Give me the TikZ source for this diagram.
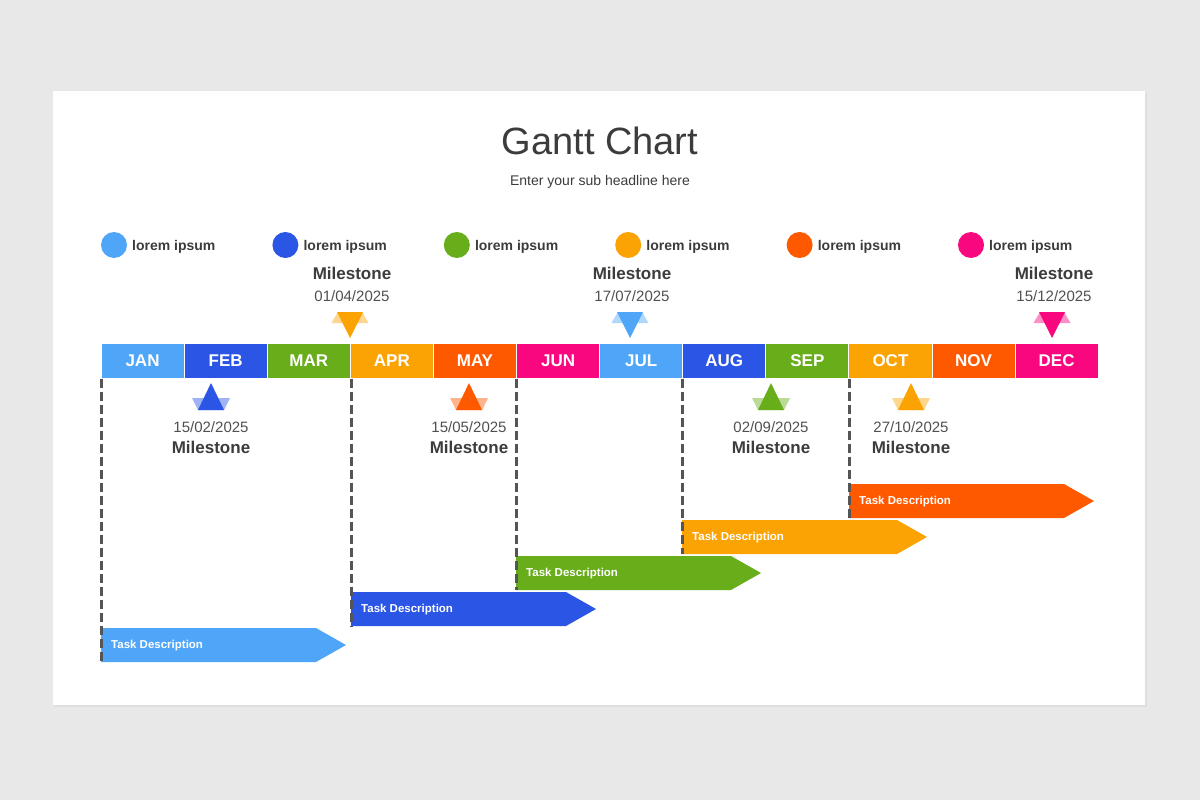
\documentclass[tikz,border=0pt]{standalone}
\usepackage{fontspec}
\setmainfont{Liberation Sans}
\usetikzlibrary{calc}
\definecolor{bgc}{HTML}{E9E8E9}
\definecolor{shc}{HTML}{E0DFE0}
\definecolor{txc}{HTML}{3C3C3C}
\definecolor{dlc}{HTML}{555555}
\definecolor{cLB}{HTML}{4FA6F8}
\definecolor{cBL}{HTML}{2A55E5}
\definecolor{cGR}{HTML}{68AD1A}
\definecolor{cOR}{HTML}{FCA304}
\definecolor{cRD}{HTML}{FF5900}
\definecolor{cMG}{HTML}{F8077E}
\tikzset{
  month/.style={fill=#1, draw=white, line width=1pt, minimum width=83.1pt, minimum height=35pt, inner sep=0pt, text=white, font=\fontsize{17}{20}\selectfont\bfseries},
  legdot/.style={circle, fill=#1, minimum size=26pt, inner sep=0pt},
  legtext/.style={anchor=west, inner sep=0pt, text=txc, font=\fontsize{14}{16}\selectfont\bfseries},
  mstitle/.style={inner sep=0pt, text=txc, font=\fontsize{17}{20}\selectfont\bfseries},
  msdate/.style={inner sep=0pt, text=txc!90, font=\fontsize{15}{18}\selectfont},
  tasktext/.style={anchor=west, inner sep=0pt, text=white, font=\fontsize{11.5}{13}\selectfont\bfseries},
  guide/.style={draw=dlc, line width=3pt, dash pattern=on 9pt off 4pt},
}
\newcommand\msdown[5]{% name, x, color, date
  \fill[#3!45!white] (#2-12,312) -- (#2+12,312) -- (#2+18.5,323) -- (#2-18.5,323) -- cycle;
  \fill[#3] (#2-13,312) -- (#2+13,312) -- (#2,338) -- cycle;
  \node[mstitle] (#1t) at (#2+2,273) {Milestone};
  \node[msdate] (#1d) at (#2+2,296) {#4};
}
\newcommand\msup[5]{% name, x, color, date
  \fill[#3!45!white] (#2-19,398) -- (#2+19,398) -- (#2+13,410) -- (#2-13,410) -- cycle;
  \fill[#3] (#2-13,410) -- (#2+13,410) -- (#2,383) -- cycle;
  \node[msdate] (#1d) at (#2,427) {#4};
  \node[mstitle] (#1t) at (#2,447) {Milestone};
}
\newcommand\taskbar[4]{% name, x, ytop, color
  \fill[#4] (#2,#3) -- (#2+215,#3) -- (#2+245,#3+17) -- (#2+215,#3+34) -- (#2,#3+34) -- cycle;
  \node[tasktext] (#1) at (#2+10,#3+18) {Task Description};
  \coordinate (#1b) at (#2,#3+34);
}
\begin{document}
\begin{tikzpicture}[x=1pt,y=-1pt]
\useasboundingbox (0,0) rectangle (1200,800);
\fill[bgc] (0,0) rectangle (1200,800);
\fill[shc] (54,92) rectangle (1147,707);
\fill[white] (53,91) rectangle (1145,705);
% title
\node[inner sep=0pt, text=txc, font=\fontsize{38}{44}\selectfont] (title) at (600,141) {Gantt Chart};
\node[inner sep=0pt, text=txc, font=\fontsize{14}{16}\selectfont] (sub) at (600,182) {Enter your sub headline here};
% legend
\foreach \i/\c in {0/cLB,1/cBL,2/cGR,3/cOR,4/cRD,5/cMG}{
  \node[legdot=\c] (ld\i) at ({114+171.4*\i},245) {};
  \node[legtext] (lt\i) at ({132+171.4*\i},246.5) {lorem ipsum};
}
% task bars
\taskbar{t1}{101}{628}{cLB}
\taskbar{t2}{351}{592}{cBL}
\taskbar{t3}{516}{556}{cGR}
\taskbar{t4}{682}{520}{cOR}
\taskbar{t5}{849}{484}{cRD}
% months
\foreach \i/\m/\c in {0/JAN/cLB,1/FEB/cBL,2/MAR/cGR,3/APR/cOR,4/MAY/cRD,5/JUN/cMG,6/JUL/cLB,7/AUG/cBL,8/SEP/cGR,9/OCT/cOR,10/NOV/cRD,11/DEC/cMG}{
  \node[month=\c] (m\i) at ({142.55+83.1*\i},360.5) {\m};
}
% guide lines
\draw[guide] (t1b |- m0.south) -- (t1b);
\draw[guide] (t2b |- m3.south) -- (t2b);
\draw[guide] (t3b |- m5.south) -- (t3b);
\draw[guide] (t4b |- m7.south) -- (t4b);
\draw[guide] (t5b |- m9.south) -- (t5b);
% milestones
\msdown{ma}{350}{cOR}{01/04/2025}{}
\msdown{mb}{630}{cLB}{17/07/2025}{}
\msdown{mc}{1052}{cMG}{15/12/2025}{}
\msup{md}{211}{cBL}{15/02/2025}{}
\msup{me}{469}{cRD}{15/05/2025}{}
\msup{mf}{771}{cGR}{02/09/2025}{}
\msup{mg}{911}{cOR}{27/10/2025}{}
\end{tikzpicture}
\end{document}
